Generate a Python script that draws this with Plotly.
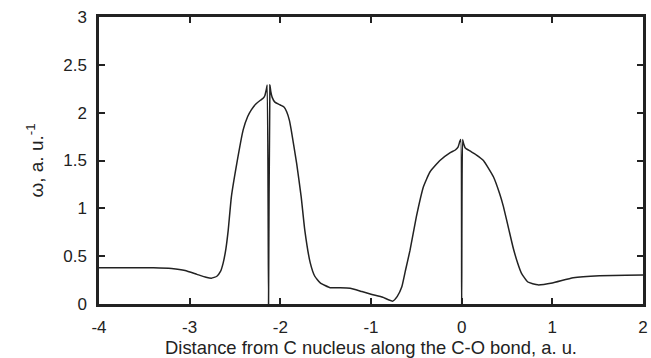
import plotly.graph_objects as go

distance = [-4.00, -3.60, -3.40, -3.20, -3.05, -2.92, -2.82, -2.76, -2.70, -2.66,
            -2.63, -2.60, -2.575, -2.54, -2.48, -2.41, -2.36, -2.32, -2.27, -2.22,
            -2.19, -2.17, -2.155, -2.145, -2.13, -2.115, -2.105, -2.09, -2.06, -2.00,
            -1.96, -1.93, -1.90, -1.88, -1.82, -1.77, -1.73, -1.67, -1.62, -1.56,
            -1.45, -1.34, -1.23, -1.10, -0.99, -0.87, -0.76, -0.71, -0.66, -0.62,
            -0.57, -0.50, -0.42, -0.35, -0.24, -0.13, -0.07, -0.04, -0.02, -0.01,
            0.00, 0.01, 0.02, 0.04, 0.09, 0.16, 0.24, 0.35, 0.42, 0.46,
            0.52, 0.57, 0.62, 0.66, 0.73, 0.84, 1.00, 1.23, 1.52, 2.00]
omega = [0.38, 0.38, 0.378, 0.37, 0.35, 0.31, 0.28, 0.27, 0.29, 0.34,
         0.43, 0.58, 0.77, 1.12, 1.47, 1.82, 1.96, 2.03, 2.09, 2.13,
         2.15, 2.18, 2.24, 2.29, 0.0, 2.29, 2.22, 2.16, 2.11, 2.08,
         2.06, 2.01, 1.92, 1.82, 1.47, 1.12, 0.77, 0.43, 0.29, 0.22,
         0.17, 0.17, 0.165, 0.13, 0.10, 0.07, 0.03, 0.08, 0.18, 0.35,
         0.56, 0.91, 1.23, 1.38, 1.50, 1.58, 1.61, 1.64, 1.70, 1.72,
         0.0, 1.72, 1.68, 1.63, 1.60, 1.56, 1.50, 1.33, 1.15, 1.02,
         0.78, 0.58, 0.42, 0.32, 0.23, 0.20, 0.22, 0.275, 0.296, 0.303]

x_ticks = [-4, -3, -2, -1, 0, 1, 2]
x_tick_text = ["-4", "-3", "-2", "-1", "0", "1", "2"]
y_ticks = [0, 0.5, 1, 1.5, 2, 2.5, 3]
y_tick_text = ["0", "0.5", "1", "1.5", "2", "2.5", "3"]

fig = go.Figure()
fig.add_trace(go.Scatter(x=distance, y=omega, mode="lines",
                         line=dict(color="#222222", width=1.5, shape="spline", smoothing=0.4),
                         showlegend=False))

axis_common = dict(showline=True, linecolor="#222222", linewidth=2.5,
                   mirror="ticks", ticks="inside", ticklen=6, tickwidth=2,
                   tickcolor="#222222", showgrid=False, zeroline=False, automargin=False,
                   tickfont=dict(family="Liberation Sans, Arial", size=17, color="#222222"))

fig.update_layout(
    width=651, height=358,
    margin=dict(l=99, r=8, t=17, b=54),
    paper_bgcolor="white", plot_bgcolor="white",
    xaxis=dict(range=[-4, 2], tickvals=x_ticks, ticktext=x_tick_text, ticklabelstandoff=6,
               title=dict(text="Distance from C nucleus along the C-O bond, a. u.",
                          font=dict(family="Liberation Sans, Arial", size=18.4, color="#222222")),
               **axis_common),
    yaxis=dict(range=[0, 3], tickvals=y_ticks, ticktext=y_tick_text, ticklabelstandoff=6,
               title=dict(text="ω, a. u.<sup>-1</sup>",
                          font=dict(family="Liberation Sans, Arial", size=19, color="#222222")),
               **axis_common),
)

fig.write_html("out.html", config={"displayModeBar": False},
               post_script="document.body.style.margin='0';document.body.style.overflow='hidden';")
